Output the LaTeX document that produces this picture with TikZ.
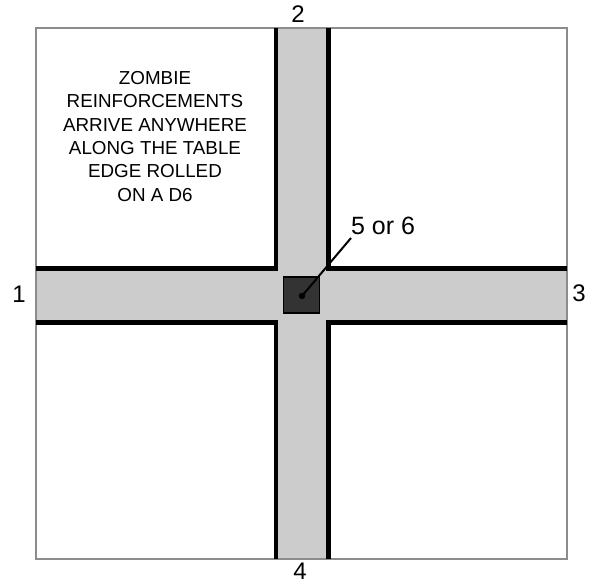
\documentclass[tikz,border=0pt]{standalone}
\usepackage{fontspec}
\setmainfont{Liberation Sans}
\definecolor{roadgray}{HTML}{CCCCCC}
\definecolor{bordergray}{HTML}{8C8C8C}
\definecolor{objdark}{HTML}{333333}
\begin{document}
\begin{tikzpicture}[x=1pt,y=-1pt,
  edgeline/.style={line width=4.8pt,line cap=butt,line join=miter,black},
  numlabel/.style={inner sep=0pt,font=\fontsize{24}{28}\selectfont},
  notetext/.style={inner sep=0pt,align=center,font=\fontsize{18.8}{23.4}\selectfont}]
\useasboundingbox (0,0) rectangle (597,585);
% table corners
\coordinate (tl) at (36,28);
\coordinate (br) at (567,559);
% roads
\fill[roadgray] (36,268) rectangle (567,323);
\fill[roadgray] (276,28) rectangle (329,559);
% table border
\draw[bordergray,line width=1.6pt] (tl) rectangle (br);
% road edges
\draw[edgeline] (36,268.5) -- (276,268.5) -- (276,28);
\draw[edgeline] (328.5,28) -- (328.5,268.5) -- (567,268.5);
\draw[edgeline] (36,322.5) -- (276,322.5) -- (276,559);
\draw[edgeline] (328.5,559) -- (328.5,322.5) -- (567,322.5);
% objective
\node (obj) [draw=black,fill=objdark,line width=1.5pt,minimum size=36pt,inner sep=0pt] at (301.5,295) {};
\fill (302,296) circle (3.2pt);
\coordinate (dot) at (302,296);
\node (five) [numlabel,font=\fontsize{25}{28}\selectfont,anchor=base] at (383,235) {5 or 6};
\coordinate (lead) at (351,238);
\draw[line width=2pt] (dot) -- (lead);
% edge numbers
\node (n1) [numlabel] at (19,294) {1};
\node (n2) [numlabel] at (298,14) {2};
\node (n3) [numlabel] at (579,293) {3};
\node (n4) [numlabel,anchor=base] at (300,579) {4};
% note
\node (note) [notetext,anchor=north] at (155,71) {ZOMBIE\\REINFORCEMENTS\\ARRIVE ANYWHERE\\ALONG THE TABLE\\EDGE ROLLED\\ON A D6};
\end{tikzpicture}
\end{document}
